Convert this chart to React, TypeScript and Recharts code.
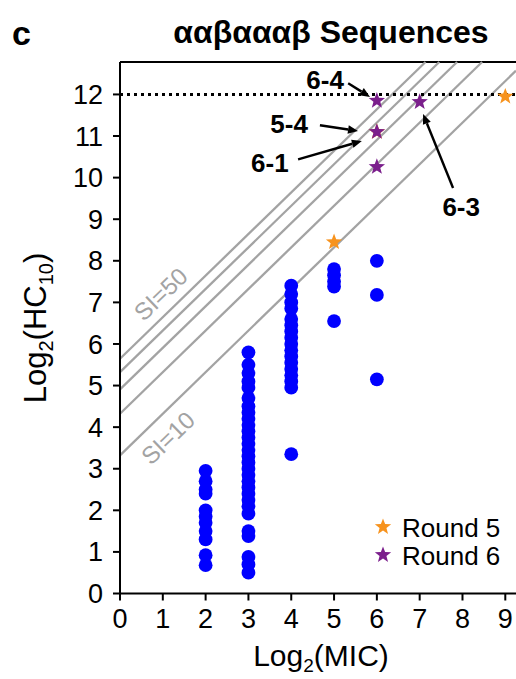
import React from 'react';
import { ScatterChart, Scatter, XAxis, YAxis, ReferenceLine, ReferenceDot } from 'recharts';

const FONT = '"Liberation Sans", Arial, Helvetica, sans-serif';
const W = 516;
const H = 679;

const X_MAX = 9.25;
const Y_MAX = 12.78;
const X_TICKS = [0, 1, 2, 3, 4, 5, 6, 7, 8, 9];
const Y_TICKS = [0, 1, 2, 3, 4, 5, 6, 7, 8, 9, 10, 11, 12];

// log2(HC10) values read per log2(MIC) column
const HC_MIC2 = [2.95, 2.7, 2.5, 2.4, 2.0, 1.85, 1.7, 1.5, 1.3, 0.92, 0.68];
const HC_MIC3 = [5.8, 5.5, 5.3, 5.1, 4.95, 4.7, 4.5, 4.35, 4.2, 4.05, 3.9, 3.75, 3.6, 3.45, 3.3, 3.15, 3.0, 2.85, 2.7, 2.55, 2.4, 2.25, 2.1, 1.92, 1.5, 1.38, 0.88, 0.7, 0.5];
const HC_MIC4 = [7.4, 7.2, 7.0, 6.85, 6.6, 6.45, 6.3, 6.15, 6.0, 5.85, 5.7, 5.55, 5.4, 5.25, 5.1, 4.95, 3.35];
const HC_MIC5 = [7.8, 7.65, 7.5, 7.38, 6.55];
const HC_MIC6 = [8.0, 7.18, 5.15];

const MIC_LEVELS = [2, 3, 4, 5, 6];
const HC_COLUMNS = [HC_MIC2, HC_MIC3, HC_MIC4, HC_MIC5, HC_MIC6];

const ROUND5 = [
  { x: 5, y: 8.45 },
  { x: 6, y: 11.1 },
  { x: 9, y: 11.95 },
];
const ROUND6 = [
  { x: 6, y: 11.85 },
  { x: 6, y: 11.1 },
  { x: 6, y: 10.26 },
  { x: 7, y: 11.82 },
];

const SI_VALUES = [10, 20, 30, 40, 50];
const SI_LABELS = [
  { text: 'SI=50', x: 0.95, y: 7.2 },
  { text: 'SI=10', x: 1.12, y: 3.74 },
];
const HC_LIMIT = 12;

const ANNOTATIONS = [
  { label: '6-4', tx: 4.79, ty: 12.34, x1: 5.33, y1: 12.27, x2: 5.84, y2: 11.94 },
  { label: '5-4', tx: 3.95, ty: 11.29, x1: 4.67, y1: 11.26, x2: 5.56, y2: 11.12 },
  { label: '6-1', tx: 3.5, ty: 10.35, x1: 4.16, y1: 10.44, x2: 5.65, y2: 10.88 },
  { label: '6-3', tx: 7.97, ty: 9.29, x1: 7.78, y1: 9.75, x2: 7.08, y2: 11.53 },
];

const BLUE = '#0000ff';
const ORANGE = '#f7931e';
const PURPLE = '#7b1f8c';
const SI_GRAY = '#a3a3a3';

const SERIES = [
  { name: 'Round 5', color: ORANGE },
  { name: 'Round 6', color: PURPLE },
];

const blueData = MIC_LEVELS.flatMap((mic, i) => HC_COLUMNS[i].map((hc) => ({ x: mic, y: hc })));

const starPoints = (cx: number, cy: number, R: number, r: number) => {
  const pts: string[] = [];
  for (let i = 0; i < 10; i++) {
    const rad = i % 2 === 0 ? R : r;
    const a = (Math.PI / 5) * i - Math.PI / 2;
    pts.push(`${cx + rad * Math.cos(a)},${cy + rad * Math.sin(a)}`);
  }
  return pts.join(' ');
};

const Dot = (props: any) => <circle cx={props.cx} cy={props.cy} r={6.9} fill={BLUE} />;

const makeStar = (color: string) => (props: any) => (
  <polygon points={starPoints(props.cx, props.cy, 8.6, 3.6)} fill={color} />
);

const Arrow = (props: any) => {
  const { x1, y1, x2, y2 } = props;
  const a = Math.atan2(y2 - y1, x2 - x1);
  const L = 10;
  const hw = 4.2;
  const bx = x2 - L * Math.cos(a);
  const by = y2 - L * Math.sin(a);
  const px = -Math.sin(a) * hw;
  const py = Math.cos(a) * hw;
  return (
    <g>
      <line x1={x1} y1={y1} x2={bx} y2={by} stroke="#000" strokeWidth={2.4} />
      <polygon points={`${x2},${y2} ${bx + px},${by + py} ${bx - px},${by - py}`} fill="#000" />
    </g>
  );
};

const siSegment = (si: number) => {
  const b = Math.log2(si);
  const end = Math.min(X_MAX, Y_MAX - b);
  return [{ x: 0, y: b }, { x: end, y: b + end }];
};

const tickStyle = { fill: '#000', fontSize: 27, fontFamily: FONT };

export default function App() {
  return (
    <div style={{ position: 'absolute', left: 0, top: 0, width: W, height: H, background: '#fff', fontFamily: FONT }}>
      <ScatterChart width={W} height={H} margin={{ top: 62, right: 0, bottom: 0, left: 0 }}>
        <XAxis
          type="number"
          dataKey="x"
          domain={[0, X_MAX]}
          ticks={X_TICKS}
          allowDataOverflow
          height={85.5}
          tick={tickStyle}
          tickSize={7}
          tickMargin={8}
          axisLine={{ stroke: '#000', strokeWidth: 2 }}
          tickLine={{ stroke: '#000', strokeWidth: 2 }}
        />
        <YAxis
          type="number"
          dataKey="y"
          domain={[0, Y_MAX]}
          ticks={Y_TICKS}
          allowDataOverflow
          width={120}
          tick={tickStyle}
          tickSize={7}
          tickMargin={10}
          axisLine={{ stroke: '#000', strokeWidth: 2 }}
          tickLine={{ stroke: '#000', strokeWidth: 2 }}
        />
        <ReferenceLine y={Y_MAX} stroke="#000" strokeWidth={2} />
        {SI_VALUES.map((si) => (
          <ReferenceLine key={si} segment={siSegment(si)} stroke={SI_GRAY} strokeWidth={2.3} />
        ))}
        <ReferenceLine y={HC_LIMIT} stroke="#000" strokeWidth={3} strokeDasharray="3 4" />
        {SI_LABELS.map((l) => (
          <ReferenceDot
            key={l.text}
            x={l.x}
            y={l.y}
            r={0}
            shape={(p: any) => (
              <text
                x={p.cx}
                y={p.cy}
                transform={`rotate(-44 ${p.cx} ${p.cy})`}
                textAnchor="middle"
                dominantBaseline="central"
                fontSize={24}
                fill={SI_GRAY}
                fontFamily={FONT}
              >
                {l.text}
              </text>
            )}
          />
        ))}
        <Scatter data={blueData} fill={BLUE} shape={Dot} isAnimationActive={false} />
        <Scatter name="Round 5" data={ROUND5} fill={ORANGE} shape={makeStar(ORANGE)} isAnimationActive={false} />
        <Scatter name="Round 6" data={ROUND6} fill={PURPLE} shape={makeStar(PURPLE)} isAnimationActive={false} />
        {ANNOTATIONS.map((a) => (
          <ReferenceLine
            key={`arrow-${a.label}`}
            segment={[{ x: a.x1, y: a.y1 }, { x: a.x2, y: a.y2 }]}
            shape={Arrow}
          />
        ))}
        {ANNOTATIONS.map((a) => (
          <ReferenceDot
            key={`label-${a.label}`}
            x={a.tx}
            y={a.ty}
            r={0}
            shape={(p: any) => (
              <text
                x={p.cx}
                y={p.cy}
                textAnchor="middle"
                dominantBaseline="central"
                fontSize={26}
                fontWeight={700}
                fill="#000"
                fontFamily={FONT}
              >
                {a.label}
              </text>
            )}
          />
        ))}
      </ScatterChart>
      <svg width={W} height={H} style={{ position: 'absolute', left: 0, top: 0, pointerEvents: 'none' }}>
        <text x={12} y={45} fontSize={34} fontWeight={700} fill="#000">c</text>
        <text x={331} y={43} textAnchor="middle" fontSize={32} fontWeight={700} fill="#000">ααβαααβ Sequences</text>
        <text x={321} y={666} textAnchor="middle" fontSize={30} fill="#000">
          Log<tspan dy={6} fontSize={19}>2</tspan><tspan dy={-6}>(MIC)</tspan>
        </text>
        <text x={46} y={328} transform="rotate(-90 46 328)" textAnchor="middle" fontSize={31} fill="#000">
          Log<tspan dy={7} fontSize={20}>2</tspan><tspan dy={-7}>(HC</tspan><tspan dy={7} fontSize={20}>10</tspan><tspan dy={-7}>)</tspan>
        </text>
        {SERIES.map((s, i) => (
          <g key={s.name}>
            <polygon points={starPoints(383, 527 + i * 28, 8.6, 3.6)} fill={s.color} />
            <text x={402} y={528 + i * 28} dominantBaseline="central" fontSize={26} fill="#000">{s.name}</text>
          </g>
        ))}
      </svg>
    </div>
  );
}
